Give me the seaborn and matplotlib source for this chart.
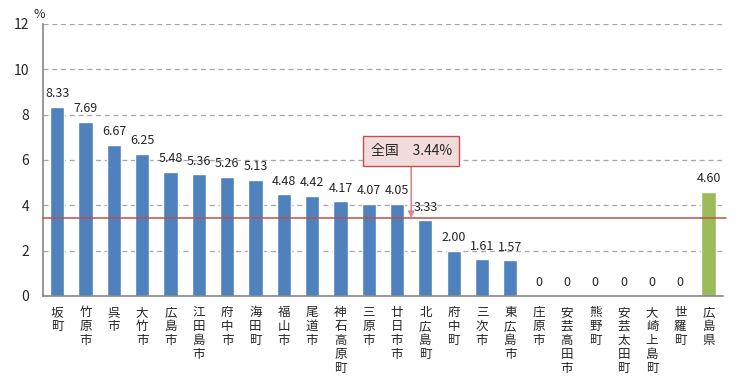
import matplotlib
matplotlib.use('Agg')
import matplotlib.pyplot as plt
import seaborn as sns
import pandas as pd
import numpy as np

# data
names = ['坂町', '竹原市', '呉市', '大竹市', '広島市', '江田島市', '府中市', '海田町',
         '福山市', '尾道市', '神石高原町', '三原市', '廿日市市', '北広島町', '府中町',
         '三次市', '東広島市', '庄原市', '安芸高田市', '熊野町', '安芸太田町',
         '大崎上島町', '世羅町', '広島県']
values = [8.33, 7.69, 6.67, 6.25, 5.48, 5.36, 5.26, 5.13, 4.48, 4.42, 4.17, 4.07,
          4.05, 3.33, 2.00, 1.61, 1.57, 0, 0, 0, 0, 0, 0, 4.60]
national = 3.44
y_ticks = [0, 2, 4, 6, 8, 10, 12]

sns.set_style('white')
plt.rcParams['font.family'] = ['Noto Sans CJK JP', 'DejaVu Sans']

df = pd.DataFrame({'name': names, 'value': values})
colors = ['#4f81bd'] * (len(names) - 1) + ['#9bbb59']

fig = plt.figure(figsize=(7.56, 3.79), dpi=100)
ax = fig.add_axes([0.057, 0.219, 0.899, 0.718])

sns.barplot(data=df, x='name', y='value', hue='name', palette=colors,
            width=0.5, legend=False, ax=ax, saturation=1)

ax.set_xlim(-0.5, len(names) - 0.5)
ax.set_ylim(0, 12)
ax.set_yticks(y_ticks)
ax.yaxis.grid(True, linestyle=(0, (4, 3)), color='#a6a6a6', linewidth=0.9)
ax.set_axisbelow(True)
ax.set_xlabel('')
ax.set_ylabel('')

for side in ['top', 'right']:
    ax.spines[side].set_visible(False)
for side in ['left', 'bottom']:
    ax.spines[side].set_color('#868686')
    ax.spines[side].set_linewidth(1.2)

# tick labels (stacked vertically)
ax.set_xticks(range(len(names)))
ax.set_xticklabels(['\n'.join(n) for n in names], fontsize=9, linespacing=1.1,
                   va='top')
ax.tick_params(axis='x', length=0, pad=7)
ax.set_xticks(np.arange(-0.5, len(names)), minor=True)
ax.tick_params(axis='x', which='minor', direction='in', length=4, color='#868686', width=1)
ax.tick_params(axis='y', direction='in', length=5, color='#868686', labelsize=10, pad=10)

# value labels
for i, v in enumerate(values):
    label = '0' if v == 0 else f'{v:.2f}'
    ax.text(i, v + 0.3, label, ha='center', va='bottom', fontsize=9)

# national average line
ax.axhline(national, xmin=0, xmax=1.005, color='#c0504d', linewidth=1.1, clip_on=False, zorder=5)

ax.annotate('全国　3.44%', xy=(12.5, national), xytext=(12.5, 6.4),
            ha='center', va='center', fontsize=10,
            bbox=dict(boxstyle='square,pad=0.55', fc='#f2dcdb', ec='#c0504d', lw=1),
            arrowprops=dict(arrowstyle='-|>', color='#d88a88', lw=1.2, shrinkA=0, shrinkB=0,
                            mutation_scale=9),
            zorder=6)

fig.text(0.044, 0.963, '%', fontsize=9, ha='left', va='center')

fig.savefig('out.png', dpi=100)
